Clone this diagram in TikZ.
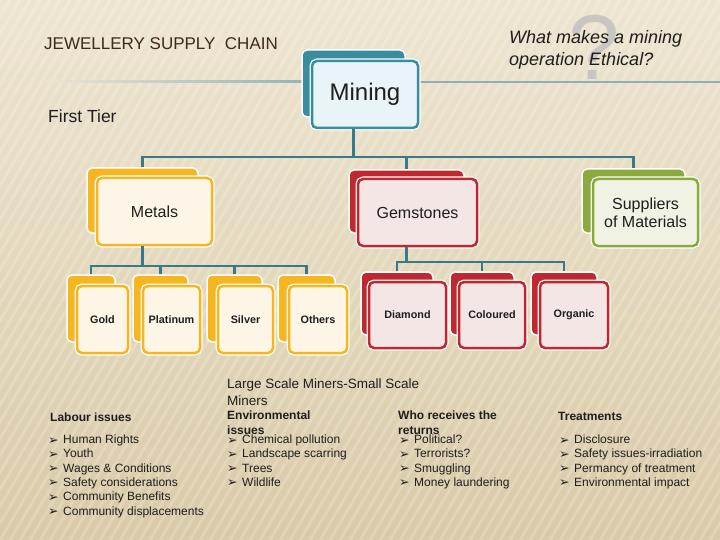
\documentclass[tikz,border=0pt]{standalone}
\usepackage{fontspec}
\setmainfont{Liberation Sans}
\newfontfamily\dejavu{DejaVu Sans}
\usepackage{xcolor}
\usetikzlibrary{positioning}

\definecolor{bgtop}{RGB}{238,229,209}
\definecolor{bgbot}{RGB}{217,203,168}
\definecolor{rule}{RGB}{140,178,184}
\definecolor{connc}{RGB}{56,122,138}
\definecolor{txt}{RGB}{30,30,30}
\definecolor{titlec}{RGB}{62,42,26}
\definecolor{tealb}{RGB}{58,140,160}
\definecolor{tealf}{RGB}{232,244,247}
\definecolor{yelb}{RGB}{245,182,32}
\definecolor{yelf}{RGB}{253,246,230}
\definecolor{redb}{RGB}{192,40,48}
\definecolor{redf}{RGB}{245,230,230}
\definecolor{grnb}{RGB}{138,170,62}
\definecolor{grnf}{RGB}{240,243,228}

\newcommand{\bul}{\makebox[15pt][l]{\raisebox{-0.5pt}{\dejavu\fontsize{12.5}{12.5}\selectfont ➢}}}

\begin{document}
\begin{tikzpicture}[x=1pt, y=-1pt,
    back/.style={rounded corners=5pt, draw=white, line width=1.5pt, inner sep=0pt},
    front/.style={rounded corners=5pt, line width=2.5pt, inner sep=0pt,
      preaction={draw=white, line width=5pt}, text=txt},
    big/.style={font=\fontsize{16}{18}\selectfont, align=center},
    small/.style={font=\bfseries\fontsize{10.8}{12}\selectfont},
    conn/.style={draw=connc, line width=2.5pt},
    head/.style={anchor=base west, inner sep=0pt, text=txt, font=\bfseries\fontsize{12}{14}\selectfont},
    item/.style={anchor=base west, inner sep=0pt, text=txt, font=\fontsize{12}{14}\selectfont}]
  \useasboundingbox (0,0) rectangle (720,540);
  % background
  \shade[top color=bgtop, bottom color=bgbot] (0,0) rectangle (720,540);
  \begin{scope}
    \clip (0,0) rectangle (720,540);
    \foreach \k in {-320,-310,...,720}
      \draw[white, opacity=0.18, line width=3pt] (\k,540) -- ++(320,-540);
  \end{scope}
  \shade[left color=bgtop, right color=rule] (46,81) rectangle (320,83);
  \fill[rule] (320,81) rectangle (720,83);

  % headings
  \node[text=black!25, opacity=0.8, anchor=base west, inner sep=0pt,
    font=\fontsize{92}{92}\selectfont] (qmark) at (568,80) {?};
  \node[anchor=base west, inner sep=0pt, text=titlec, font=\fontsize{17}{20}\selectfont]
    (title) at (44,49.5) {JEWELLERY SUPPLY\ \ CHAIN};
  \node[anchor=base west, inner sep=0pt, text=txt, font=\itshape\fontsize{18}{22}\selectfont]
    (quest1) at (509,43.5) {What makes a mining};
  \node[anchor=base west, inner sep=0pt, text=txt, font=\itshape\fontsize{18}{22}\selectfont]
    (quest2) at (509,66) {operation Ethical?};
  \node[anchor=base west, inner sep=0pt, text=txt, font=\fontsize{17.5}{20}\selectfont]
    (tier) at (48,123) {First Tier};

  % top box
  \node[back, fill=tealb, minimum width=103pt, minimum height=67pt] (mining-b) at (353.5,83.5) {};
  \node[front, draw=tealb, fill=tealf, minimum width=106pt, minimum height=67pt,
    font=\fontsize{24}{28}\selectfont] (mining) at (365,94.5) {Mining};

  % second row
  \node[back, fill=yelb, minimum width=111pt, minimum height=65pt] (metals-b) at (142.5,200.5) {};
  \node[front, big, draw=yelb, fill=yelf, minimum width=115pt, minimum height=67pt] (metals) at (154.5,211.5) {Metals};
  \node[back, fill=redb, minimum width=115pt, minimum height=63pt] (gems-b) at (406.5,201.5) {};
  \node[front, big, draw=redb, fill=redf, minimum width=119pt, minimum height=67pt] (gems) at (417.5,212.5) {Gemstones};
  \node[back, fill=grnb, minimum width=103pt, minimum height=64pt] (supp-b) at (633.5,201) {};
  \node[front, big, draw=grnb, fill=grnf, minimum width=105pt, minimum height=67pt] (supp) at (645.5,212.5) {Suppliers\\of Materials};

  % metals
  \node[back, fill=yelb, minimum width=48pt, minimum height=67pt] (gold-b) at (91,308.5) {};
  \node[front, small, draw=yelb, fill=yelf, minimum width=51pt, minimum height=67pt] (gold) at (102.5,319.5) {Gold};
  \node[back, fill=yelb, minimum width=55pt, minimum height=67pt] (plat-b) at (160.5,308.5) {};
  \node[front, small, draw=yelb, fill=yelf, minimum width=57pt, minimum height=67pt] (plat) at (171.5,319.5) {Platinum};
  \node[back, fill=yelb, minimum width=55pt, minimum height=67pt] (silver-b) at (234.5,308.5) {};
  \node[front, small, draw=yelb, fill=yelf, minimum width=55pt, minimum height=67pt] (silver) at (245.5,319.5) {Silver};
  \node[back, fill=yelb, minimum width=57pt, minimum height=67pt] (others-b) at (306.5,308.5) {};
  \node[front, small, draw=yelb, fill=yelf, minimum width=58pt, minimum height=67pt] (others) at (318,319.5) {Others};

  % gemstones
  \node[back, fill=redb, minimum width=72pt, minimum height=63pt] (diam-b) at (397,303.5) {};
  \node[front, small, draw=redb, fill=redf, minimum width=77pt, minimum height=66pt] (diam) at (407.5,315) {Diamond};
  \node[back, fill=redb, minimum width=64pt, minimum height=63pt] (col-b) at (482,303.5) {};
  \node[front, small, draw=redb, fill=redf, minimum width=66pt, minimum height=66pt] (col) at (492,315) {Coloured};
  \node[back, fill=redb, minimum width=66pt, minimum height=63pt] (org-b) at (564,303.5) {};
  \node[front, small, draw=redb, fill=redf, minimum width=68pt, minimum height=66pt] (org) at (574,315) {Organic};

  % connectors
  \coordinate (bus) at (353.5,157);
  \coordinate (mbus) at (142.5,266);
  \coordinate (gbus) at (406.5,262);
  \draw[conn] (mining-b.south |- mining.south) -- (bus);
  \draw[conn] (metals-b.north) |- (bus) -| (supp-b.north);
  \draw[conn] (bus) -| (gems-b.north);
  \draw[conn] (metals-b.south |- metals.south) -- (mbus);
  \draw[conn] (gold-b.north) |- (mbus) -| (others-b.north);
  \draw[conn] (plat-b.north) |- (mbus);
  \draw[conn] (silver-b.north) |- (mbus);
  \draw[conn] (gems-b.south |- gems.south) -- (gbus);
  \draw[conn] (diam-b.north) |- (gbus) -| (org-b.north);
  \draw[conn] (col-b.north) |- (gbus);

  % issues
  \node[item, font=\fontsize{13.5}{17}\selectfont] (scale1) at (227,388) {Large Scale Miners-Small Scale};
  \node[item, font=\fontsize{13.5}{17}\selectfont] (scale2) at (227,405) {Miners};

  \node[head] (labour) at (50,421) {Labour issues};
  \foreach \t [count=\i] in {Human Rights,Youth,Wages \& Conditions,Safety considerations,Community Benefits,Community displacements}
    \node[item] (lab\i) at (48,{443.5+14.3*(\i-1)}) {\bul\t};

  \node[head] (env1) at (227,419.5) {Environmental};
  \node[head] (env2) at (227,434) {issues};
  \foreach \t [count=\i] in {Chemical pollution,Landscape scarring,Trees,Wildlife}
    \node[item] (env\i-i) at (227,{443.5+14.3*(\i-1)}) {\bul\t};

  \node[head] (who1) at (398,419.5) {Who receives the};
  \node[head] (who2) at (398,434) {returns};
  \foreach \t [count=\i] in {Political?,Terrorists?,Smuggling,Money laundering}
    \node[item] (who\i-i) at (399,{443.5+14.3*(\i-1)}) {\bul\t};

  \node[head] (treat) at (558,420.5) {Treatments};
  \foreach \t [count=\i] in {Disclosure,Safety issues-irradiation,Permancy of treatment,Environmental impact}
    \node[item] (treat\i) at (559,{443.5+14.3*(\i-1)}) {\bul\t};
\end{tikzpicture}
\end{document}
